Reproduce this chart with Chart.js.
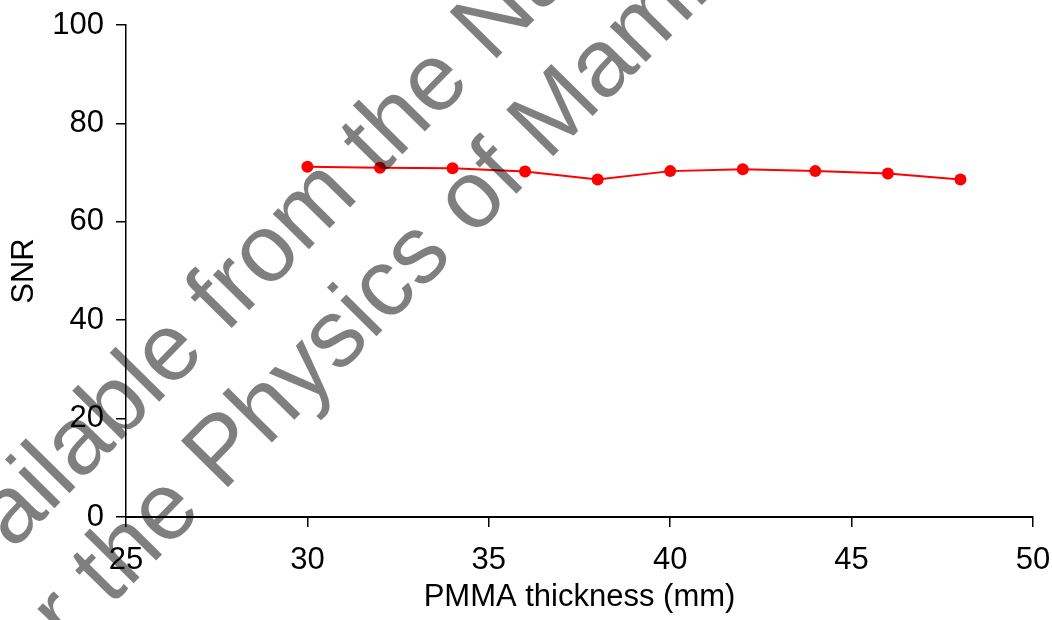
<!DOCTYPE html>
<html>
<head>
<meta charset="utf-8">
<script src="https://cdn.jsdelivr.net/npm/chart.js@4/dist/chart.umd.min.js"></script>
<style>
  html, body { margin: 0; padding: 0; background: #fff; }
  #wrap { width: 1052px; height: 620px; }
</style>
</head>
<body>
<div id="wrap"><canvas id="c" width="1052" height="620"></canvas></div>
<script>
const thickness = [30, 32, 34, 36, 38, 40, 42, 44, 46, 48];
const snr = [71.2, 71.0, 70.9, 70.2, 68.6, 70.3, 70.7, 70.3, 69.8, 68.6];
const xTicks = [25, 30, 35, 40, 45, 50];
const yTicks = [0, 20, 40, 60, 80, 100];
const xTitle = 'PMMA thickness (mm)';
const yTitle = 'SNR';
const watermarkLines = ['Available from the National Coordinating Centre', 'for the Physics of Mammography'];

const FONT = '"Liberation Sans", Arial, sans-serif';

const watermark = {
  id: 'watermark',
  afterDraw(chart) {
    const ctx = chart.ctx;
    ctx.save();
    ctx.translate(13, 706);
    ctx.rotate(-45.5 * Math.PI / 180);
    ctx.font = '96px ' + FONT;
    ctx.fillStyle = 'rgba(0,0,0,0.5)';
    ctx.textBaseline = 'alphabetic';
    ctx.textAlign = 'left';
    ctx.fillText(watermarkLines[0], 0, -109);
    ctx.fillText(watermarkLines[1], 0, 0);
    ctx.restore();
  }
};

new Chart(document.getElementById('c'), {
  type: 'line',
  data: {
    datasets: [{
      data: thickness.map((t, i) => ({ x: t, y: snr[i] })),
      borderColor: '#ff0000',
      backgroundColor: '#ff0000',
      borderWidth: 2,
      pointRadius: 6,
      pointBorderWidth: 0,
      pointBackgroundColor: '#ff0000',
      tension: 0
    }]
  },
  options: {
    responsive: false,
    animation: false,
    devicePixelRatio: 1,
    layout: { padding: { left: 0, right: 19, top: 25, bottom: 0 } },
    plugins: { legend: { display: false }, tooltip: { enabled: false } },
    scales: {
      x: {
        type: 'linear',
        min: 25, max: 50,
        afterBuildTicks: s => { s.ticks = xTicks.map(v => ({ value: v })); },
        afterFit: s => { s.height = 103; s.paddingLeft = 0; s.paddingRight = 0; },
        border: { display: true, color: '#000', width: 2 },
        grid: { drawOnChartArea: false, drawTicks: true, tickLength: 10, color: '#000', lineWidth: 1.5 },
        ticks: { color: '#000', font: { family: FONT, size: 31 }, padding: 15, maxRotation: 0, autoSkip: false },
        title: { display: true, text: xTitle, color: '#000', font: { family: FONT, size: 31 }, padding: { top: 0, bottom: 4 } }
      },
      y: {
        min: 0, max: 100,
        afterBuildTicks: s => { s.ticks = yTicks.map(v => ({ value: v })); },
        afterFit: s => { s.width = 126; s.paddingTop = 0; s.paddingBottom = 0; },
        border: { display: true, color: '#000', width: 1.5 },
        grid: { drawOnChartArea: false, drawTicks: true, tickLength: 10, color: '#000', lineWidth: 1.5 },
        ticks: { color: '#000', font: { family: FONT, size: 31 }, padding: 12, autoSkip: false },
        title: { display: true, text: yTitle, color: '#000', font: { family: FONT, size: 31 }, padding: { top: 6, bottom: 0 } }
      }
    }
  },
  plugins: [watermark]
});
</script>
</body>
</html>
